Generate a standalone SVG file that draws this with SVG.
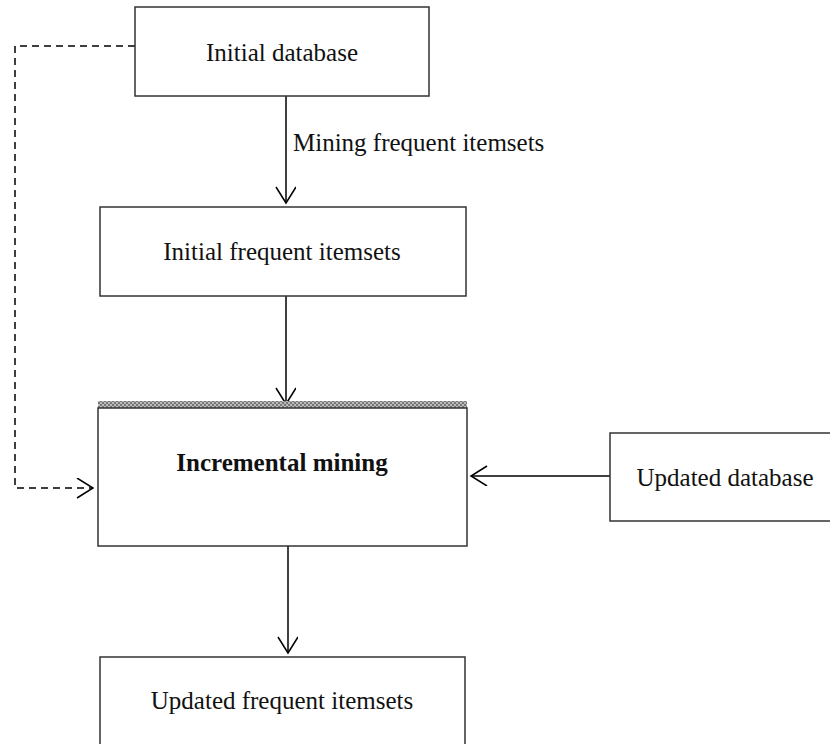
<svg xmlns="http://www.w3.org/2000/svg" width="830" height="744" viewBox="0 0 830 744">
<style>
.box{fill:#fff;stroke:#333;stroke-width:1.5}
.t{font-family:"Liberation Serif","Times New Roman",serif;font-size:25px;fill:#111}
.b{font-weight:bold}
.ln{fill:none;stroke:#000;stroke-width:1.5}
.dash{stroke-dasharray:7 5}
</style>
<defs>
<pattern id="hatch" width="4" height="4" patternUnits="userSpaceOnUse">
<rect width="4" height="4" fill="#bbb"/>
<rect width="2" height="2" fill="#777"/>
<rect x="2" y="2" width="2" height="2" fill="#777"/>
</pattern>
<marker id="arr" markerWidth="20" markerHeight="24" refX="17" refY="10" orient="auto" markerUnits="userSpaceOnUse">
<path d="M1,0 L17,10 L1,20" fill="none" stroke="#000" stroke-width="1.5"/>
</marker>
</defs>
<g id="connectors">
<line class="ln" x1="286" y1="96" x2="286" y2="203" marker-end="url(#arr)"/>
<line class="ln" x1="286" y1="296" x2="286" y2="404" marker-end="url(#arr)"/>
<line class="ln" x1="288" y1="546" x2="288" y2="653" marker-end="url(#arr)"/>
<line class="ln" x1="610" y1="476" x2="471" y2="476" marker-end="url(#arr)"/>
<polyline class="ln dash" points="135,46 15,46 15,488 93,488" marker-end="url(#arr)"/>
<text class="t" x="293" y="151">Mining frequent itemsets</text>
</g>
<g id="initial-database">
<rect class="box" x="135" y="7" width="294" height="89"/>
<text class="t" x="282" y="61" text-anchor="middle">Initial database</text>
</g>
<g id="initial-frequent-itemsets">
<rect class="box" x="100" y="207" width="366" height="89"/>
<text class="t" x="282" y="260" text-anchor="middle">Initial frequent itemsets</text>
</g>
<g id="incremental-mining">
<rect x="98" y="401" width="369" height="7" fill="url(#hatch)"/>
<rect class="box" x="98" y="408" width="369" height="138"/>
<text class="t b" x="282" y="471" text-anchor="middle">Incremental mining</text>
</g>
<g id="updated-database">
<rect class="box" x="610" y="433" width="224" height="88"/>
<text class="t" x="725" y="486" text-anchor="middle">Updated database</text>
</g>
<g id="updated-frequent-itemsets">
<rect class="box" x="100" y="657" width="365" height="92"/>
<text class="t" x="282" y="709" text-anchor="middle">Updated frequent itemsets</text>
</g>
</svg>
